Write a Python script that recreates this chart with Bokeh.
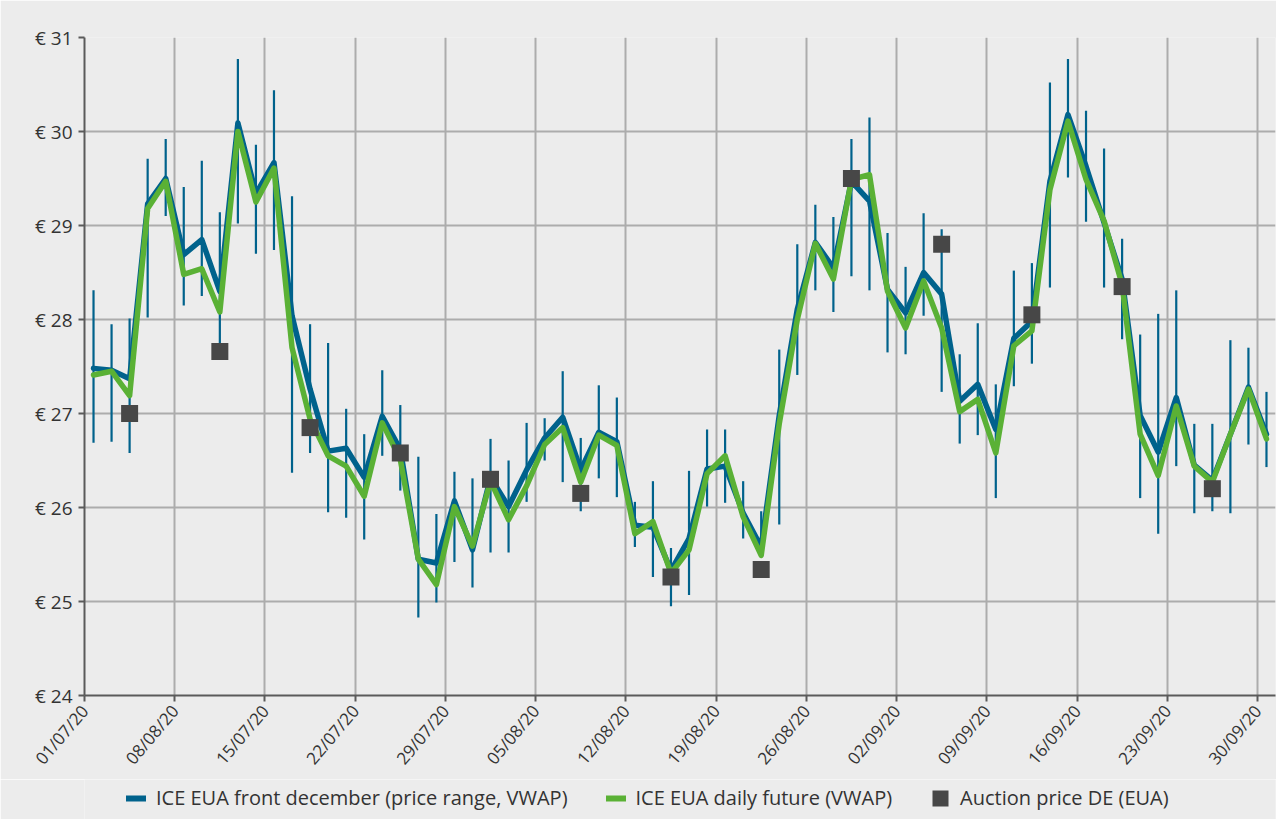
import math
import pandas as pd
from bokeh.plotting import figure
from bokeh.layouts import column
from bokeh.models import ColumnDataSource, FixedTicker, Legend, LegendItem, Range1d
from bokeh.embed import file_html
from bokeh.resources import INLINE

# ---------------- data ----------------
trading_days = [d.strftime("%d/%m/%y") for d in pd.bdate_range("2020-07-01", "2020-09-30")]

tick_labels = ["01/07/20", "08/08/20", "15/07/20", "22/07/20", "29/07/20", "05/08/20",
               "12/08/20", "19/08/20", "26/08/20", "02/09/20", "09/09/20", "16/09/20",
               "23/09/20", "30/09/20"]

front_vwap = [27.48, 27.46, 27.37, 29.23, 29.50, 28.69, 28.85, 28.30, 30.09, 29.34,
              29.67, 28.04, 27.26, 26.60, 26.63, 26.32, 26.97, 26.62, 25.45, 25.41,
              26.07, 25.55, 26.32, 26.01, 26.40, 26.74, 26.96, 26.40, 26.80, 26.70,
              25.81, 25.79, 25.33, 25.67, 26.41, 26.44, 25.94, 25.58, 26.98, 28.11,
              28.82, 28.55, 29.47, 29.26, 28.32, 28.07, 28.50, 28.27, 27.13, 27.31,
              26.83, 27.80, 27.98, 29.47, 30.18, 29.63, 29.03, 28.43, 26.98, 26.59,
              27.17, 26.45, 26.29, 26.78, 27.28, 26.78]

front_high = [28.31, 27.95, 28.01, 29.71, 29.92, 29.41, 29.69, 29.14, 30.77, 29.86,
              30.44, 29.31, 27.95, 27.75, 27.05, 26.78, 27.46, 27.09, 26.54, 25.93,
              26.38, 26.31, 26.73, 26.50, 26.90, 26.95, 27.45, 26.74, 27.30, 27.17,
              26.06, 26.28, 25.57, 26.39, 26.83, 26.83, 26.28, 25.96, 27.68, 28.80,
              29.22, 29.09, 29.92, 30.15, 28.92, 28.56, 29.13, 28.96, 27.63, 27.96,
              27.31, 28.52, 28.60, 30.52, 30.77, 30.22, 29.82, 28.86, 27.84, 28.06,
              28.31, 26.89, 26.89, 27.78, 27.70, 27.23]

front_low = [26.69, 26.70, 26.58, 28.02, 29.10, 28.15, 28.25, 27.75, 29.02, 28.70,
             28.74, 26.37, 26.58, 25.95, 25.89, 25.66, 26.55, 26.18, 24.83, 24.99,
             25.42, 25.15, 25.52, 25.52, 26.06, 26.50, 26.27, 25.96, 26.31, 26.11,
             25.58, 25.26, 24.95, 25.07, 26.01, 26.05, 25.67, 25.48, 25.82, 27.41,
             28.31, 28.08, 28.46, 28.31, 27.65, 27.63, 28.04, 27.23, 26.68, 26.77,
             26.10, 27.29, 27.53, 28.34, 29.51, 29.04, 28.34, 27.79, 26.10, 25.72,
             26.44, 25.94, 25.96, 25.94, 26.67, 26.43]

daily_vwap = [27.41, 27.45, 27.19, 29.18, 29.47, 28.48, 28.54, 28.08, 30.00, 29.25,
              29.61, 27.70, 26.94, 26.55, 26.44, 26.12, 26.90, 26.51, 25.45, 25.18,
              26.01, 25.59, 26.28, 25.87, 26.23, 26.67, 26.85, 26.27, 26.77, 26.66,
              25.72, 25.85, 25.30, 25.55, 26.36, 26.55, 25.90, 25.49, 26.89, 28.00,
              28.81, 28.43, 29.49, 29.54, 28.30, 27.91, 28.41, 27.91, 27.02, 27.15,
              26.58, 27.72, 27.88, 29.38, 30.11, 29.49, 29.05, 28.37, 26.78, 26.34,
              27.08, 26.44, 26.27, 26.78, 27.26, 26.73]

auction_days = ["03/07/20", "10/07/20", "17/07/20", "24/07/20", "31/07/20", "07/08/20",
                "14/08/20", "21/08/20", "28/08/20", "04/09/20", "11/09/20", "18/09/20",
                "25/09/20"]
auction_price = [27.00, 27.66, 26.85, 26.58, 26.30, 26.15, 25.26, 25.34, 29.50, 28.80,
                 28.05, 28.35, 26.20]

y_ticks = [24, 25, 26, 27, 28, 29, 30, 31]

legend_labels = ["ICE EUA front december (price range, VWAP)",
                 "ICE EUA daily future (VWAP)",
                 "Auction price DE (EUA)"]

# ---------------- sources ----------------
n = len(trading_days)
xpos = [i + 0.5 for i in range(n)]
src = ColumnDataSource(dict(x=xpos, front=front_vwap, hi=front_high, lo=front_low, daily=daily_vwap))
auc_x = [trading_days.index(d) + 0.5 for d in auction_days]
auc_src = ColumnDataSource(dict(x=auc_x, y=auction_price))

tick_pos = list(range(0, n, 5))

BG = "#ececec"
BLUE = "#00628c"
GREEN = "#5ab135"
SQ = "#474747"
GRID = "#acacac"
AXIS = "#5a5a5a"
FONT = "Open Sans"
W = 1276

p = figure(frame_width=1191, frame_height=658, output_backend="svg", toolbar_location=None,
           x_range=Range1d(0, n), y_range=Range1d(24, 31),
           min_border_left=84, min_border_top=37, min_border_right=1, min_border_bottom=4,
           background_fill_color=BG, border_fill_color=BG, outline_line_color=None)

# axes
p.xaxis.ticker = FixedTicker(ticks=tick_pos)
p.xaxis.major_label_overrides = {t: lab for t, lab in zip(tick_pos, tick_labels)}
p.xaxis.major_label_orientation = 0.87
p.yaxis.ticker = FixedTicker(ticks=y_ticks)
p.yaxis.major_label_overrides = {v: f"€ {v}" for v in y_ticks}
for ax in (p.xaxis, p.yaxis):
    ax.axis_line_color = AXIS
    ax.axis_line_width = 2
    ax.major_tick_line_color = AXIS
    ax.major_tick_line_width = 2
    ax.major_tick_in = 0
    ax.major_tick_out = 6
    ax.minor_tick_line_color = None
    ax.major_label_text_font = FONT
    ax.major_label_text_color = "#333333"
    ax.major_label_standoff = 6
p.xaxis.major_label_text_font_size = "17px"
p.yaxis.major_label_text_font_size = "19px"

p.xgrid.ticker = FixedTicker(ticks=tick_pos)
p.ygrid.ticker = FixedTicker(ticks=y_ticks)
for g in (p.xgrid, p.ygrid):
    g.grid_line_color = GRID
    g.grid_line_width = 2

# glyphs
p.segment(x0="x", y0="lo", x1="x", y1="hi", source=src, line_color=BLUE, line_width=2.2)
p.line("x", "front", source=src, line_color=BLUE, line_width=5.5,
       line_join="round", line_cap="round")
p.line("x", "daily", source=src, line_color=GREEN, line_width=5.5,
       line_join="round", line_cap="round")
p.scatter("x", "y", source=auc_src, marker="square", size=17,
          fill_color=SQ, line_color=None)

# ---------------- legend strip (separate figure so it is not clipped) ----------------
# the series are re-drawn here outside this strip's visible range, only to feed the legend
pl = figure(width=W, height=40, output_backend="svg", toolbar_location=None,
            x_range=Range1d(0, 1), y_range=Range1d(0, 1), min_border=0,
            background_fill_color=BG, border_fill_color=BG, outline_line_color=None)
pl.axis.visible = False
pl.grid.visible = False
lb = pl.line("x", "front", source=src, line_color=BLUE, line_width=6, line_cap="round")
lg = pl.line("x", "daily", source=src, line_color=GREEN, line_width=6, line_cap="round")
ls = pl.rect("x", "y", width=0.5, height=0.5, source=auc_src, fill_color=SQ, line_color=None)

legend = Legend(items=[LegendItem(label=lab, renderers=[r])
                       for lab, r in zip(legend_labels, [lb, lg, ls])],
                orientation="horizontal", location=(42, 8), spacing=38,
                glyph_width=20, glyph_height=20, label_standoff=10, padding=0, margin=0,
                border_line_color=None, background_fill_alpha=0,
                label_text_font=FONT, label_text_font_size="20px",
                label_text_color="#333333")
pl.add_layout(legend)

layout = column(p, pl, spacing=0)
open("out.html", "w").write(file_html(layout, INLINE))
